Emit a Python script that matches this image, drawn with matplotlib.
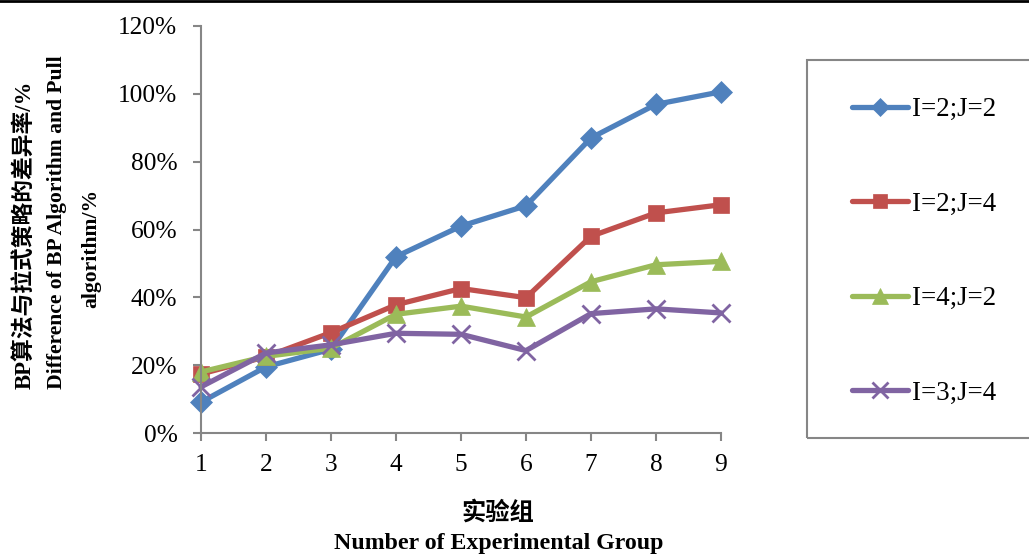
import matplotlib
matplotlib.use("Agg")
import matplotlib.pyplot as plt
from matplotlib.patches import Rectangle
from matplotlib.ticker import FuncFormatter, MultipleLocator

# Experimental groups and the difference rate (%) for each parameter setting
groups = [1, 2, 3, 4, 5, 6, 7, 8, 9]
series_labels = ["I=2;J=2", "I=2;J=4", "I=4;J=2", "I=3;J=4"]
rate_i2_j2 = [9.1, 19.5, 24.7, 52.0, 61.0, 67.0, 87.0, 96.9, 100.6]
rate_i2_j4 = [17.4, 22.5, 29.6, 37.8, 42.6, 39.9, 58.0, 64.9, 67.3]
rate_i4_j2 = [18.0, 22.6, 25.0, 35.0, 37.4, 34.2, 44.6, 49.6, 50.6]
rate_i3_j4 = [13.6, 23.6, 26.0, 29.4, 29.1, 24.3, 35.2, 36.6, 35.4]

colors = ["#4F81BD", "#C0504D", "#9BBB59", "#8064A2"]
markers = ["D", "s", "^", "x"]
msizes = [11, 12, 13, 13]

serif = ["Liberation Serif", "Noto Sans CJK SC"]
plt.rcParams["font.family"] = serif
plt.rcParams["mathtext.default"] = "regular"

fig = plt.figure(figsize=(10.29, 5.55), dpi=100)
W, H = 1029, 555
ax = fig.add_axes([201 / W, (H - 433) / H, 520 / W, 407 / H])

all_series = [rate_i2_j2, rate_i2_j4, rate_i4_j2, rate_i3_j4]
for vals, lab, c, m, ms in zip(all_series, series_labels, colors, markers, msizes):
    ax.plot(groups, vals, color=c, lw=3.8, marker=m, ms=ms,
            mew=2.0 if m == "x" else 0.5, mec=c, mfc=c, label=lab,
            solid_joinstyle="round", solid_capstyle="round", clip_on=False)

ax.set_xlim(1, 9)
ax.set_ylim(0, 120)
ax.set_xticks(groups)
ax.yaxis.set_major_locator(MultipleLocator(20))
ax.yaxis.set_major_formatter(FuncFormatter(lambda v, p: f"{v:.0f}%"))

for side in ["top", "right"]:
    ax.spines[side].set_visible(False)
for side in ["left", "bottom"]:
    ax.spines[side].set_color("#868686")
    ax.spines[side].set_linewidth(1.5)
ax.tick_params(axis="both", colors="#868686", width=1.5, length=6,
               labelsize=18.3, labelcolor="black")
ax.tick_params(axis="y", pad=11)
ax.tick_params(axis="x", pad=9)

# Axis titles (bilingual)
fig.text(25 / W, 1 - 235 / H, "BP算法与拉式策略的差异率/%", rotation=90,
         ha="center", va="center", fontsize=16.4, fontweight="bold")
fig.text(57 / W, 1 - 222 / H, "Difference of BP Algorithm and Pull", rotation=90,
         ha="center", va="center", fontsize=15.6, fontweight="bold")
fig.text(91 / W, 1 - 248 / H, "algorithm/%", rotation=90,
         ha="center", va="center", fontsize=15.6, fontweight="bold")
fig.text(498 / W, 1 - 513 / H, "实验组", ha="center", va="center",
         fontsize=17.5, fontweight="bold")
fig.text(499 / W, 1 - 543 / H, "Number of Experimental Group", ha="center",
         va="center", fontsize=17.2, fontweight="bold")

# Legend with a separate frame that runs off the right edge
fig.patches.append(Rectangle((807 / W, 1 - 438 / H), 240 / W, 378 / H,
                             transform=fig.transFigure, fill=False,
                             edgecolor="#868686", lw=1.5, clip_on=False))
leg = fig.legend(loc="upper left", bbox_to_anchor=(852 / W, 1 - 97 / H),
                 frameon=False, fontsize=19.4, handlelength=2.08,
                 handletextpad=0.15, labelspacing=2.58, borderpad=0,
                 borderaxespad=0, markerscale=0.85)

# Thin rule along the top edge
fig.add_artist(plt.Line2D([0, 1], [1 - 1 / H, 1 - 1 / H], color="black",
                          lw=2, transform=fig.transFigure))

fig.savefig("out.png", dpi=100)
